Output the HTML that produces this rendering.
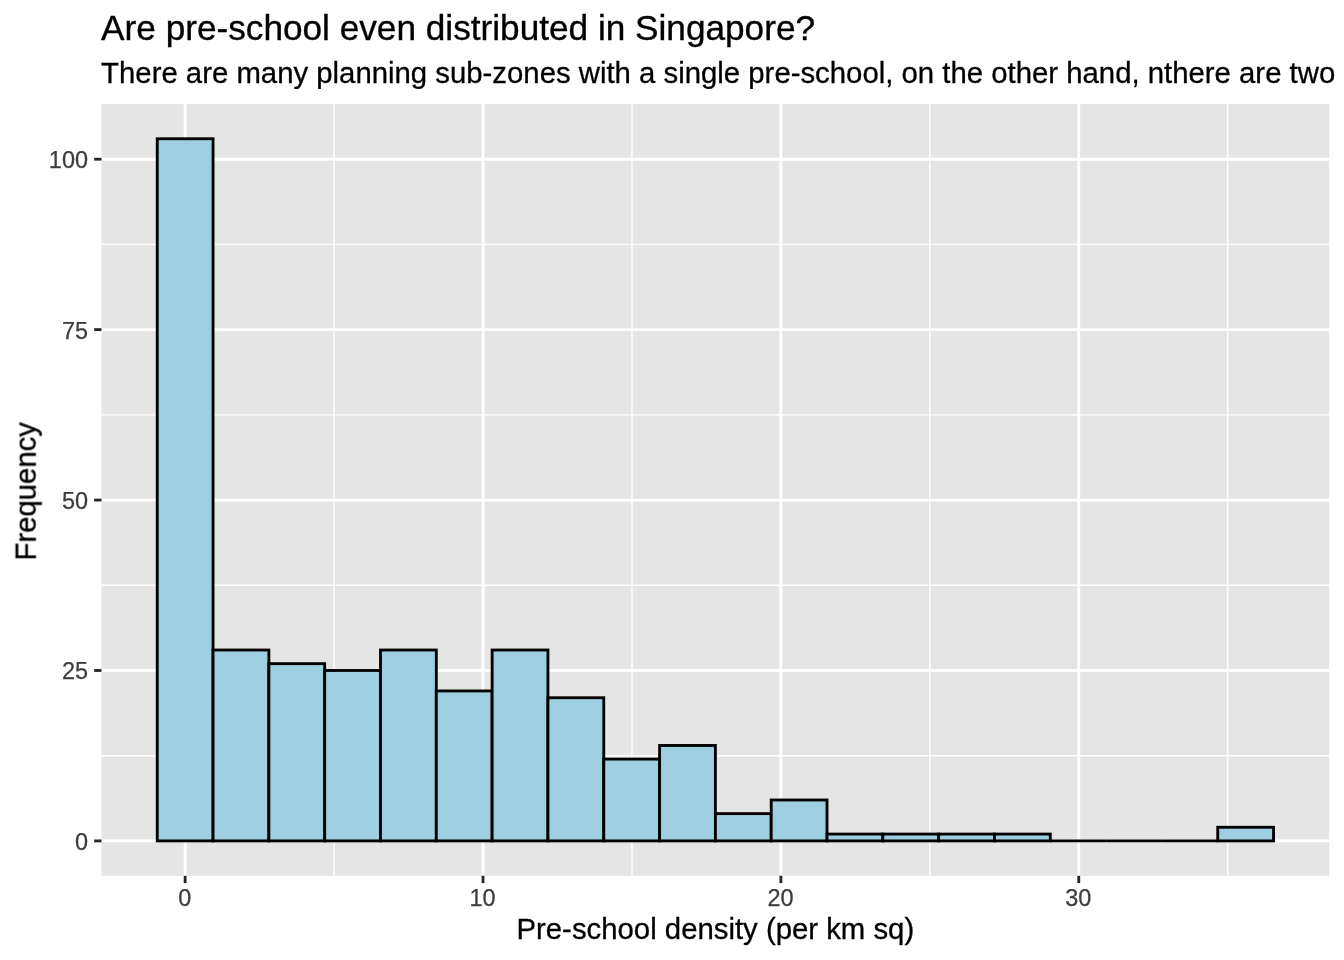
<!DOCTYPE html>
<html lang="en"><head><meta charset="utf-8"><title>Are pre-school even distributed in Singapore?</title>
<style>
html,body{margin:0;padding:0;background:#fff;}
body{width:1344px;height:960px;overflow:hidden;}
svg{display:block;}
text{font-family:"Liberation Sans", sans-serif;}
.t{font-size:35.2px;fill:#000;stroke:#000;stroke-width:.35px;}
.s{font-size:29.33px;fill:#000;stroke:#000;stroke-width:.3px;}
.a{font-size:23.47px;fill:#3C3C3C;stroke:#3C3C3C;stroke-width:.25px;}
.l{font-size:29.33px;fill:#000;stroke:#000;stroke-width:.3px;}
</style></head><body>
<svg width="1344" height="960" viewBox="0 0 1344 960">
<rect width="1344" height="960" fill="#fff"/>
<rect x="101.5" y="103.9" width="1227.70" height="771.90" fill="#E5E5E5"/>
<g stroke="#fff" stroke-width="1.42" fill="none">
<path d="M101.5 755.69H1329.2"/>
<path d="M101.5 585.26H1329.2"/>
<path d="M101.5 414.84H1329.2"/>
<path d="M101.5 244.41H1329.2"/>
<path d="M334.09 103.9V875.8"/>
<path d="M631.96 103.9V875.8"/>
<path d="M929.82 103.9V875.8"/>
<path d="M1227.70 103.9V875.8"/>
</g>
<g stroke="#fff" stroke-width="2.85" fill="none">
<path d="M101.5 840.90H1329.2"/>
<path d="M101.5 670.47H1329.2"/>
<path d="M101.5 500.05H1329.2"/>
<path d="M101.5 329.62H1329.2"/>
<path d="M101.5 159.20H1329.2"/>
<path d="M185.15 103.9V875.8"/>
<path d="M483.02 103.9V875.8"/>
<path d="M780.89 103.9V875.8"/>
<path d="M1078.76 103.9V875.8"/>
</g>
<g fill="#9ECFE0" stroke="#000" stroke-width="2.85" stroke-linejoin="miter">
<rect x="157.25" y="138.75" width="55.81" height="702.15"/>
<rect x="213.06" y="650.02" width="55.81" height="190.88"/>
<rect x="268.88" y="663.66" width="55.81" height="177.24"/>
<rect x="324.69" y="670.47" width="55.81" height="170.43"/>
<rect x="380.51" y="650.02" width="55.81" height="190.88"/>
<rect x="436.32" y="690.93" width="55.81" height="149.97"/>
<rect x="492.14" y="650.02" width="55.81" height="190.88"/>
<rect x="547.95" y="697.74" width="55.81" height="143.16"/>
<rect x="603.77" y="759.10" width="55.81" height="81.80"/>
<rect x="659.59" y="745.46" width="55.81" height="95.44"/>
<rect x="715.40" y="813.63" width="55.81" height="27.27"/>
<rect x="771.21" y="800.00" width="55.81" height="40.90"/>
<rect x="827.03" y="834.08" width="55.81" height="6.82"/>
<rect x="882.85" y="834.08" width="55.81" height="6.82"/>
<rect x="938.66" y="834.08" width="55.81" height="6.82"/>
<rect x="994.47" y="834.08" width="55.81" height="6.82"/>
<path d="M1050.29 840.90H1106.11"/>
<path d="M1106.11 840.90H1161.92"/>
<path d="M1161.92 840.90H1217.74"/>
<rect x="1217.73" y="827.27" width="55.81" height="13.63"/>
</g>
<g stroke="#262626" stroke-width="2.85" fill="none">
<path d="M94.17 840.90H101.5"/>
<path d="M94.17 670.47H101.5"/>
<path d="M94.17 500.05H101.5"/>
<path d="M94.17 329.62H101.5"/>
<path d="M94.17 159.20H101.5"/>
<path d="M185.15 875.8V883.13"/>
<path d="M483.02 875.8V883.13"/>
<path d="M780.89 875.8V883.13"/>
<path d="M1078.76 875.8V883.13"/>
</g>
<defs><filter id="gs" filterUnits="userSpaceOnUse" x="0" y="0" width="1344" height="960" color-interpolation-filters="sRGB"><feColorMatrix type="saturate" values="0"/></filter></defs>
<g filter="url(#gs)">
<text class="a" x="88.0" y="850" text-anchor="end">0</text>
<text class="a" x="88.0" y="679" text-anchor="end">25</text>
<text class="a" x="88.0" y="509" text-anchor="end">50</text>
<text class="a" x="88.0" y="339" text-anchor="end">75</text>
<text class="a" x="88.0" y="168" text-anchor="end">100</text>
<text class="a" x="184.75" y="906" text-anchor="middle">0</text>
<text class="a" x="482.62" y="906" text-anchor="middle">10</text>
<text class="a" x="780.49" y="906" text-anchor="middle">20</text>
<text class="a" x="1078.36" y="906" text-anchor="middle">30</text>
<text class="l" x="715.35" y="939.2" text-anchor="middle">Pre-school density (per km sq)</text>
<text class="l" transform="translate(35.7 491.35) rotate(-90)" text-anchor="middle">Frequency</text>
<text class="t" x="101.1" y="40">Are pre-school even distributed in Singapore?</text>
<text class="s" x="101.1" y="82.7">There are many planning sub-zones with a single pre-school, on the other hand, nthere are two</text>
</g>
</svg></body></html>
